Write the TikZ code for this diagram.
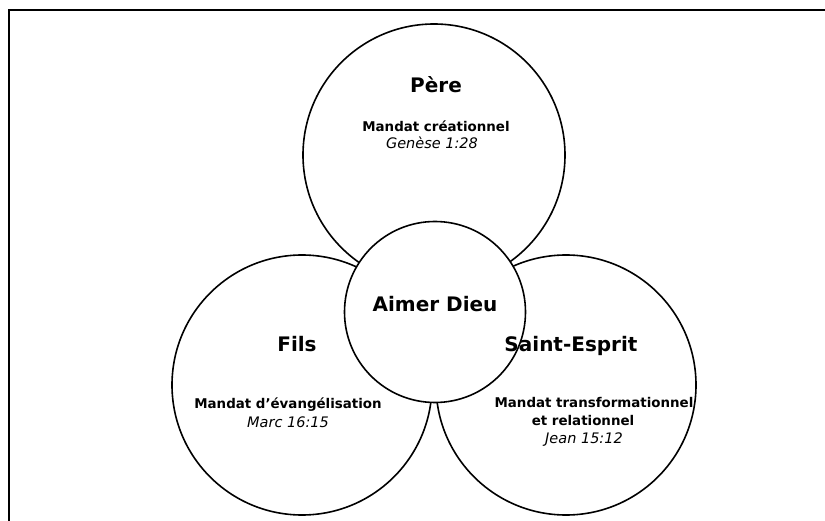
\documentclass[tikz,border=0pt]{standalone}
\usepackage{fontspec}
\setmainfont{DejaVu Sans}
\usetikzlibrary{shapes,positioning}
\tikzstyle{ring} = [circle, draw=black, line width=1.6pt, fill=white, inner sep=0pt]
\tikzstyle{title} = [anchor=base, font=\bfseries\fontsize{20}{24}\selectfont]
\tikzstyle{mandat} = [anchor=base, inner sep=0pt, font=\bfseries\fontsize{13.4}{18}\selectfont]
\tikzstyle{verse} = [anchor=base, inner sep=0pt, font=\itshape\fontsize{14.5}{18}\selectfont]

\begin{document}
\begin{tikzpicture}[x=1pt, y=-1pt]
    \useasboundingbox (0,0) rectangle (825,521);
    \draw[line width=1.4pt] (9,521) -- (9,10) -- (825,10);

    % les trois cercles puis le centre
    \node (pere) [ring, minimum size=262pt] at (434,155) {};
    \node (fils) [ring, minimum size=260pt] at (302,385) {};
    \node (esprit) [ring, minimum size=260pt] at (566,385) {};
    \node (dieu) [ring, minimum size=181pt] at (435,312) {};

    \node (peret) [title] at (436,93) {Père};
    \node (perem) [mandat] at (436,132) {Mandat créationnel};
    \node (perev) [verse] at (432,149) {Genèse 1:28};

    \node (dieut) [title] at (435,312) {Aimer Dieu};

    \node (filst) [title] at (297,352) {Fils};
    \node (filsm) [mandat] at (288,408) {Mandat d’évangélisation};
    \node (filsv) [verse] at (288,427) {Marc 16:15};

    \node (espritt) [title] at (571,352) {Saint-Esprit};
    \node (espritm) [mandat] at (594,407) {Mandat transformationnel};
    \node (espritr) [mandat] at (583,425) {et relationnel};
    \node (espritv) [verse] at (584,443) {Jean 15:12};

\end{tikzpicture}
\end{document}
